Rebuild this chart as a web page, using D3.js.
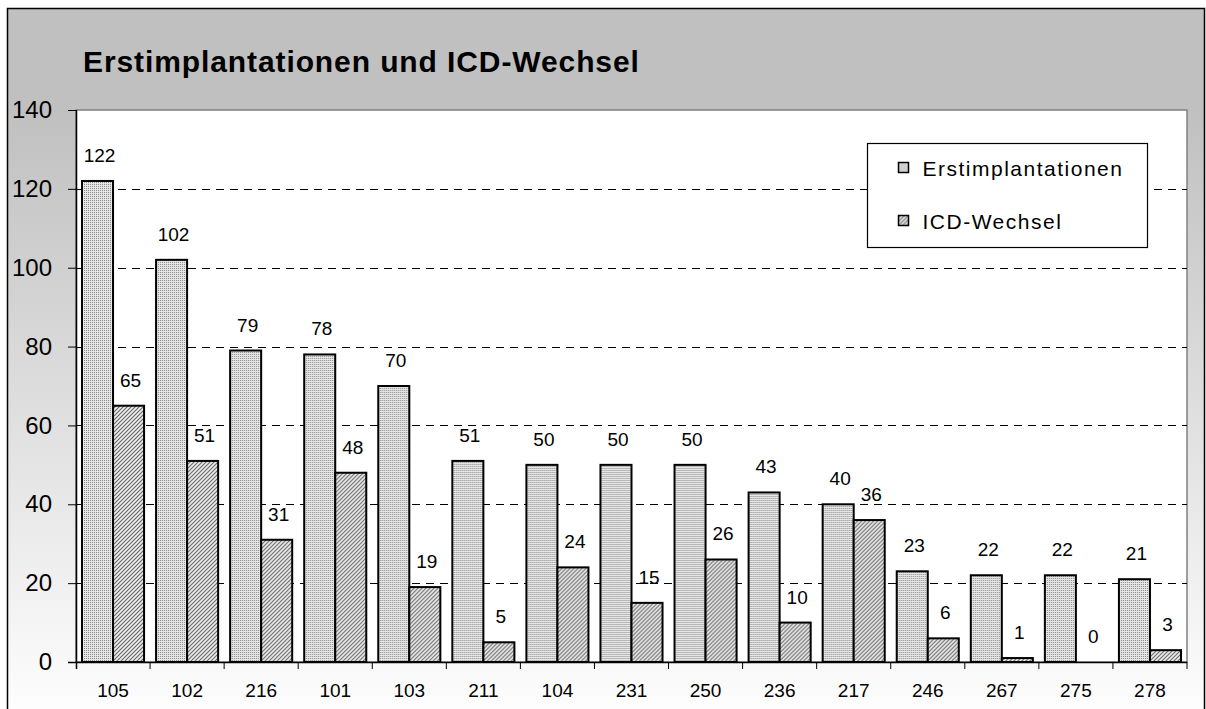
<!DOCTYPE html>
<html>
<head>
<meta charset="utf-8">
<script src="https://cdn.jsdelivr.net/npm/d3@7"></script>
<style>
  body { margin: 0; background: #fff; }
  text { font-family: 'Liberation Sans', Arial, sans-serif; fill: #000; }
</style>
</head>
<body>
<div id="chart"></div>
<script>
let categories = ['105', '102', '216', '101', '103', '211', '104', '231', '250', '236', '217', '246', '267', '275', '278']
let erstimplantationen = [122, 102, 79, 78, 70, 51, 50, 50, 50, 43, 40, 23, 22, 22, 21]
let icdWechsel = [65, 51, 31, 48, 19, 5, 24, 15, 26, 10, 36, 6, 1, 0, 3]
let seriesNames = ['Erstimplantationen', 'ICD-Wechsel']
let yTicks = [0, 20, 40, 60, 80, 100, 120, 140]

let W = 1206
let H = 709
let margin = { top: 110, left: 76, right: 19, bottom: 47 }
let width = W - margin.left - margin.right
let height = H - margin.top - margin.bottom

let svg = d3
  .select('#chart')
  .append('svg')
  .attr('width', W)
  .attr('height', H)

let defs = svg.append('defs')

let grad = defs
  .append('linearGradient')
  .attr('id', 'bg-grad')
  .attr('x1', 0)
  .attr('y1', 0)
  .attr('x2', 0)
  .attr('y2', 1)
grad.append('stop').attr('offset', '14%').attr('stop-color', '#c0c0c0')
grad.append('stop').attr('offset', '100%').attr('stop-color', '#ffffff')

// stipple pattern for first series
let dots = defs
  .append('pattern')
  .attr('id', 'pat-dots')
  .attr('patternUnits', 'userSpaceOnUse')
  .attr('width', 2)
  .attr('height', 2)
dots.append('rect').attr('width', 2).attr('height', 2).attr('fill', '#e6e6e6')
dots.append('rect').attr('width', 1).attr('height', 1).attr('fill', '#8a8a8a')

// diagonal hatch for second series
let hatch = defs
  .append('pattern')
  .attr('id', 'pat-hatch')
  .attr('patternUnits', 'userSpaceOnUse')
  .attr('width', 4)
  .attr('height', 4)
hatch.append('rect').attr('width', 4).attr('height', 4).attr('fill', '#eeeeee')
hatch
  .append('path')
  .attr('d', 'M-1,1 l2,-2 M0,4 l4,-4 M3,5 l2,-2')
  .attr('stroke', '#666')
  .attr('stroke-width', 1.1)

// outer frame with gradient
svg
  .append('rect')
  .attr('x', 7.5)
  .attr('y', 8.5)
  .attr('width', 1197)
  .attr('height', 720)
  .attr('fill', 'url(#bg-grad)')
  .attr('stroke', '#000')
  .attr('stroke-width', 1.5)

svg
  .append('text')
  .attr('x', 83)
  .attr('y', 72)
  .attr('font-size', 30)
  .attr('font-weight', 'bold')
  .attr('letter-spacing', 0.9)
  .text('Erstimplantationen und ICD-Wechsel')

let g = svg.append('g').attr('transform', `translate(${margin.left}, ${margin.top})`)

let xPositionScale = d3
  .scaleBand()
  .domain(categories)
  .range([0, width])
  .paddingInner(0)
  .paddingOuter(0)

let xInner = d3
  .scaleBand()
  .domain(seriesNames)
  .range([6, xPositionScale.bandwidth() - 6])

let yPositionScale = d3.scaleLinear().domain([0, 140]).range([height, 0])

g.append('rect')
  .attr('width', width)
  .attr('height', height)
  .attr('fill', '#fff')
  .attr('stroke', '#808080')
  .attr('stroke-width', 1.5)

g.selectAll('.grid')
  .data(yTicks.filter(d => d > 0 && d < 140))
  .enter()
  .append('line')
  .attr('class', 'grid')
  .attr('x1', 0)
  .attr('x2', width)
  .attr('y1', d => Math.round(yPositionScale(d)) + 0.5)
  .attr('y2', d => Math.round(yPositionScale(d)) + 0.5)
  .attr('stroke', '#000')
  .attr('stroke-dasharray', '8,6')

let rows = categories.map((c, i) => ({
  cat: c,
  values: [
    { key: seriesNames[0], value: erstimplantationen[i] },
    { key: seriesNames[1], value: icdWechsel[i] }
  ]
}))

let fills = { 'Erstimplantationen': 'url(#pat-dots)', 'ICD-Wechsel': 'url(#pat-hatch)' }

let groups = g
  .selectAll('.grp')
  .data(rows)
  .enter()
  .append('g')
  .attr('class', 'grp')
  .attr('transform', d => `translate(${xPositionScale(d.cat)}, 0)`)

groups
  .selectAll('rect')
  .data(d => d.values.filter(v => v.value > 0))
  .enter()
  .append('rect')
  .attr('x', d => xInner(d.key))
  .attr('y', d => yPositionScale(d.value))
  .attr('width', xInner.bandwidth())
  .attr('height', d => height - yPositionScale(d.value))
  .attr('fill', d => fills[d.key])
  .attr('stroke', '#000')
  .attr('stroke-width', 2)

groups
  .selectAll('.val')
  .data(d => d.values)
  .enter()
  .append('text')
  .attr('class', 'val')
  .attr('x', d => xInner(d.key) + xInner.bandwidth() / 2 + 2)
  .attr('y', d => yPositionScale(d.value) - 19)
  .attr('text-anchor', 'middle')
  .attr('font-size', 19)
  .text(d => d.value)

let xAxis = d3.axisBottom(xPositionScale).tickSize(0).tickPadding(22)
let xg = g
  .append('g')
  .attr('class', 'axis x-axis')
  .attr('transform', `translate(0, ${height})`)
  .call(xAxis)
xg.select('.domain').remove()
xg.selectAll('text').attr('font-size', 19).attr('font-family', null)

// category separators on x axis
g.selectAll('.xtick')
  .data(categories.slice(1).concat(['end']))
  .enter()
  .append('line')
  .attr('class', 'xtick')
  .attr('x1', (d, i) => (i + 1) * xPositionScale.bandwidth())
  .attr('x2', (d, i) => (i + 1) * xPositionScale.bandwidth())
  .attr('y1', height)
  .attr('y2', height + 7)
  .attr('stroke', '#000')

let yAxis = d3.axisLeft(yPositionScale).tickValues(yTicks).tickSize(8).tickPadding(16)
let yg = g.append('g').attr('class', 'axis y-axis').call(yAxis)
yg.select('.domain').remove()
yg.selectAll('text').attr('font-size', 24).attr('font-family', null)

g.append('line')
  .attr('x1', 0.5)
  .attr('x2', 0.5)
  .attr('y1', 0)
  .attr('y2', height + 7)
  .attr('stroke', '#000')
  .attr('stroke-width', 1.5)
g.append('line')
  .attr('x1', -8)
  .attr('x2', width)
  .attr('y1', height + 0.5)
  .attr('y2', height + 0.5)
  .attr('stroke', '#000')
  .attr('stroke-width', 1.5)

// legend
let legend = svg.append('g').attr('transform', 'translate(867.5, 143.5)')
legend
  .append('rect')
  .attr('width', 280)
  .attr('height', 104)
  .attr('fill', '#fff')
  .attr('stroke', '#000')
  .attr('stroke-width', 1.2)

let items = legend
  .selectAll('.item')
  .data(seriesNames)
  .enter()
  .append('g')
  .attr('class', 'item')
  .attr('transform', (d, i) => `translate(0, ${24 + i * 53})`)
items
  .append('rect')
  .attr('x', 31)
  .attr('y', -5)
  .attr('width', 10)
  .attr('height', 10)
  .attr('fill', d => fills[d])
  .attr('stroke', '#000')
  .attr('stroke-width', 1.5)
items
  .append('text')
  .attr('x', 55)
  .attr('y', 8)
  .attr('font-size', 21)
  .attr('letter-spacing', 1.5)
  .text(d => d)
</script>
</body>
</html>
